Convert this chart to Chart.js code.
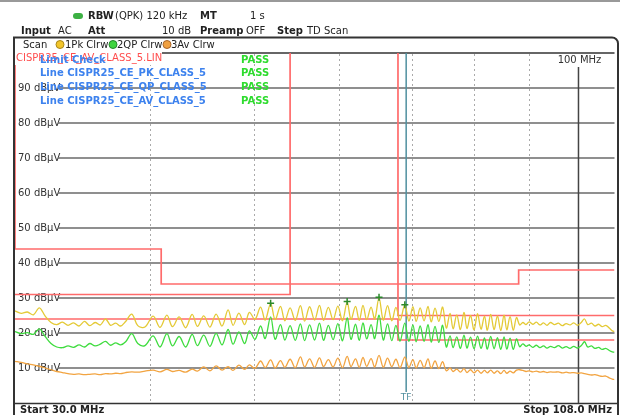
<!DOCTYPE html>
<html><head><meta charset="utf-8">
<script src="https://cdn.jsdelivr.net/npm/chart.js@4/dist/chart.umd.min.js"></script>
<style>html,body{margin:0;padding:0;background:#fff;overflow:hidden}canvas{display:block}</style>
</head><body>
<canvas id="c" width="620" height="415"></canvas>
<script>
// ---- data (MHz / dBµV) ----
const freqsMHz = [
 30.0,30.4,30.8,31.2,31.6,32.0,32.4,32.8,33.2,33.6,34.0,34.4,34.8,35.2,35.6,36.0,36.4,36.8,37.2,37.6,38.0,38.5,39.0,39.6,
 40.3,40.9,41.5,42.0,42.6,43.2,43.8,44.3,44.9,45.5,46.1,46.7,47.3,47.8,48.4,49.0,49.5,50.1,50.7,51.2,51.8,52.3,52.9,53.4,54.0,54.6,
 55.2,55.7,56.3,56.9,57.5,58.0,58.6,59.2,59.8,60.4,61.0,61.5,62.1,62.6,63.1,63.6,64.2,64.7,65.3,65.9,66.5,67.1,67.7,68.3,69.0,69.6,
 70.2,70.7,71.3,71.9,72.5,73.0,73.6,74.2,74.8,75.4,76.0,76.5,77.1,77.7,78.3,78.8,79.4,80.0,80.6,81.2,81.8,82.3,82.9,83.5,84.1,84.7,
 85.3,85.8,86.4,87.0,87.6,88.2,
 88.8,89.4,90.0,90.7,91.4,92.1,92.8,93.5,94.2,95.0,95.8,96.6,97.4,98.2,99.0,99.8,100.6,101.3,102.0,102.8,103.6,104.4,105.2,106.0,106.8,107.5,108.0
];
const pkTrace = [
 26.3,25.6,26.0,25.2,27.2,24.8,23.0,22.4,23.1,22.2,22.9,22.0,23.3,22.1,23.0,22.3,24.0,22.2,22.8,22.0,23.3,25.4,22.1,21.7,
 24.8,21.6,25.1,21.8,24.6,21.5,25.3,21.9,24.9,21.7,25.4,22.0,26.6,22.2,25.7,22.4,25.9,23.9,27.4,23.7,28.4,23.8,27.6,23.5,27.2,23.6,
 27.8,23.4,27.5,23.7,27.9,23.6,27.3,23.8,27.7,23.5,28.8,23.9,27.6,23.6,27.9,23.8,27.4,24.0,30.0,23.7,27.8,23.5,27.3,23.6,28.0,23.4,
 27.5,23.3,27.2,23.5,27.6,23.2,27.1,23.3,27.4,21.4,25.6,21.2,25.2,21.0,25.9,21.3,25.0,20.9,25.5,21.1,24.8,20.8,25.3,21.0,24.9,20.7,
 25.1,20.9,24.7,20.8,24.4,22.3,
 23.0,22.4,23.2,22.5,23.1,22.3,22.9,22.2,23.0,22.4,22.8,22.1,22.7,22.3,22.9,22.2,23.0,24.0,22.4,22.8,22.0,22.5,21.8,22.2,21.4,20.6,20.4
];
const qpTrace = [
 20.4,19.8,20.1,19.6,21.2,19.0,17.0,16.0,15.8,16.3,15.9,16.6,16.0,17.0,16.3,16.8,17.6,16.5,17.2,16.6,17.5,19.8,17.0,16.4,
 19.2,16.0,19.8,16.3,19.0,16.0,19.6,16.4,19.4,16.2,19.9,16.6,21.0,16.8,20.3,17.0,20.6,18.2,22.0,18.4,24.6,18.2,22.4,18.0,22.1,17.9,
 22.6,17.8,22.3,18.0,22.8,17.9,22.2,18.1,22.7,17.8,24.3,18.2,22.5,17.9,22.9,18.3,22.4,18.4,25.1,18.0,22.6,17.8,22.2,17.7,22.8,17.6,
 22.3,17.5,22.0,17.6,22.4,17.4,21.9,17.3,22.2,16.0,19.2,15.8,18.9,15.6,19.4,15.7,18.8,15.5,19.1,15.6,18.6,15.4,19.0,15.5,18.7,15.3,
 18.9,15.4,18.5,15.3,18.3,16.1,
 16.9,16.2,16.6,15.9,16.5,15.8,16.3,15.7,16.2,15.8,16.4,15.7,16.1,15.6,16.2,15.7,16.4,17.5,16.0,16.3,15.6,15.9,15.3,15.6,15.0,14.6,14.5
];
const avTrace = [
 11.9,11.6,11.2,10.9,10.5,10.0,9.5,9.0,8.7,8.4,8.2,8.3,8.1,8.2,8.3,8.1,8.4,8.3,8.5,8.4,8.7,8.9,8.8,9.1,
 9.4,8.9,9.6,9.0,9.3,8.8,9.7,9.1,10.3,9.2,10.6,9.4,10.4,9.3,10.8,9.6,10.9,9.9,12.0,10.1,12.3,10.0,12.1,10.2,12.5,10.1,
 13.2,10.3,12.6,10.2,12.9,10.4,12.4,10.3,12.8,10.1,13.3,10.4,12.6,10.2,13.0,10.5,12.7,10.3,13.6,10.2,12.8,10.4,12.5,10.1,13.1,10.2,
 12.4,10.0,12.2,10.1,12.6,9.9,12.0,9.8,11.8,9.2,10.0,9.0,9.7,8.8,9.8,8.7,9.5,8.6,9.4,8.5,9.3,8.6,9.4,8.5,9.2,8.4,
 9.3,8.5,9.1,8.6,9.4,9.5,
 9.3,9.0,9.2,8.9,9.1,8.8,9.0,8.7,8.9,8.8,8.9,8.6,8.8,8.6,8.7,8.5,8.6,8.4,8.2,8.0,8.1,7.8,7.6,7.7,7.2,6.8,6.7
];
// limit lines (200 = gap, drawn off the top)
const pkLimitFreqs = [30, 30, 41, 41, 88, 88, 108];
const pkLimitLevels = [200, 44, 44, 34, 34, 38, 38];
const qpLimitFreqs = [30, 54, 54, 68, 68, 108];
const qpLimitLevels = [31, 31, 200, 200, 25, 25];
const avLimitFreqs = [30, 68, 68, 108];
const avLimitLevels = [24, 24, 18, 18];
// markers
const markerFreqs = [51.8, 61.0, 65.3, 69.0];
const markerLevels = [28.5, 29.0, 30.2, 28.1];
const tfFreq = 69.2;
// axes
const levelTicks = [90, 80, 70, 60, 50, 40, 30, 20, 10];
const levelUnit = 'dBµV';
const freqGrid = [40, 50, 60, 70, 80, 90];
const freqMajor = 100;
const freqMin = 30, freqMax = 108;
const limitRows = ['Line CISPR25_CE_PK_CLASS_5', 'Line CISPR25_CE_QP_CLASS_5', 'Line CISPR25_CE_AV_CLASS_5'];

const F = 'DejaVu Sans';
function txt(ctx, t, x, y, opts) {
  opts = opts || {};
  ctx.font = (opts.bold ? 'bold ' : '') + (opts.size || 10) + 'px "' + F + '"';
  ctx.fillStyle = opts.color || '#222';
  ctx.textAlign = opts.align || 'left';
  ctx.textBaseline = 'middle';
  ctx.fillText(t, x, y);
}
function dot(ctx, x, y, fill, stroke) {
  ctx.beginPath(); ctx.arc(x, y, 4, 0, Math.PI * 2);
  ctx.fillStyle = fill; ctx.fill(); ctx.lineWidth = 1; ctx.strokeStyle = stroke; ctx.stroke();
}

const framePlugin = {
  id: 'frame',
  beforeDraw(chart) {
    const ctx = chart.ctx, W = chart.width, H = chart.height, ca = chart.chartArea;
    ctx.save();
    ctx.fillStyle = '#fff'; ctx.fillRect(0, 0, W, H);
    ctx.strokeStyle = '#777'; ctx.lineWidth = 1.5;
    ctx.beginPath(); ctx.moveTo(0, 1); ctx.lineTo(W, 1); ctx.stroke();
    // header
    ctx.fillStyle = '#3cb043';
    ctx.beginPath(); ctx.roundRect ? ctx.roundRect(73, 13, 10, 6, 3) : ctx.rect(73, 13, 10, 6); ctx.fill();
    txt(ctx, 'RBW', 88, 16, {bold: true});
    txt(ctx, '(QPK) 120 kHz', 115, 16);
    txt(ctx, 'MT', 200, 16, {bold: true});
    txt(ctx, '1 s', 250, 16);
    txt(ctx, 'Input', 21, 31, {bold: true});
    txt(ctx, 'AC', 58, 31);
    txt(ctx, 'Att', 88, 31, {bold: true});
    txt(ctx, '10 dB', 162, 31);
    txt(ctx, 'Preamp', 200, 31, {bold: true});
    txt(ctx, 'OFF', 246, 31);
    txt(ctx, 'Step', 277, 31, {bold: true});
    txt(ctx, 'TD Scan', 307, 31);
    // outer box
    ctx.strokeStyle = '#333'; ctx.lineWidth = 2;
    ctx.beginPath(); ctx.moveTo(14, H + 2); ctx.lineTo(14, 37.5); ctx.lineTo(612, 37.5);
    ctx.arcTo(618, 37.5, 618, 44, 6); ctx.lineTo(618, H + 2); ctx.stroke();
    // scan row
    txt(ctx, 'Scan', 23, 45);
    dot(ctx, 60, 44.5, '#f2c52a', '#a8861a'); txt(ctx, '1Pk Clrw', 65, 45);
    dot(ctx, 113, 44.5, '#3fd43f', '#23862a'); txt(ctx, '2QP Clrw', 117, 45);
    dot(ctx, 167, 44.5, '#f0a040', '#a8652a'); txt(ctx, '3Av Clrw', 171, 45);
    // plot top line
    ctx.strokeStyle = '#666'; ctx.lineWidth = 2;
    ctx.beginPath(); ctx.moveTo(ca.left, ca.top); ctx.lineTo(ca.right, ca.top); ctx.stroke();
    // bottom line
    ctx.strokeStyle = '#333'; ctx.lineWidth = 1.5;
    ctx.beginPath(); ctx.moveTo(14, ca.bottom + 0.5); ctx.lineTo(618, ca.bottom + 0.5); ctx.stroke();
    txt(ctx, 'Start ' + freqMin.toFixed(1) + ' MHz', 20, 410, {bold: true});
    txt(ctx, 'Stop ' + freqMax.toFixed(1) + ' MHz', 612, 410, {bold: true, align: 'right'});
    ctx.restore();
  },
  beforeDatasetsDraw(chart) {
    const ctx = chart.ctx, ca = chart.chartArea, xs = chart.scales.x, ys = chart.scales.y;
    ctx.save();
    // dotted frequency grid
    ctx.strokeStyle = '#aaa'; ctx.lineWidth = 1; ctx.setLineDash([2, 3]);
    freqGrid.forEach(f => {
      const x = Math.round(xs.getPixelForValue(f)) + 0.5;
      ctx.beginPath(); ctx.moveTo(x, ca.top + 1); ctx.lineTo(x, ca.bottom); ctx.stroke();
    });
    ctx.setLineDash([]);
    // level grid + labels
    levelTicks.forEach(v => {
      const y = ys.getPixelForValue(v);
      txt(ctx, v + ' ' + levelUnit, ca.left + 3, y, {color: '#333'});
      ctx.strokeStyle = '#6a6a6a'; ctx.lineWidth = 1.5;
      ctx.beginPath(); ctx.moveTo(ca.left + 43, y); ctx.lineTo(ca.right, y); ctx.stroke();
    });
    // 100 MHz solid line
    const x100 = xs.getPixelForValue(freqMajor);
    ctx.strokeStyle = '#444'; ctx.lineWidth = 1.5;
    ctx.beginPath(); ctx.moveTo(x100, ca.top + 14); ctx.lineTo(x100, ca.bottom); ctx.stroke();
    // TF line
    const xtf = xs.getPixelForValue(tfFreq);
    ctx.strokeStyle = '#4f8f9f'; ctx.lineWidth = 1.5;
    ctx.beginPath(); ctx.moveTo(xtf, ca.top); ctx.lineTo(xtf, ca.bottom - 11); ctx.stroke();
    txt(ctx, 'TF', xtf, ca.bottom - 5, {color: '#4f8f9f', size: 9, align: 'center'});
    ctx.restore();
  },
  afterDatasetsDraw(chart) {
    const ctx = chart.ctx, ca = chart.chartArea, xs = chart.scales.x;
    ctx.save();
    ctx.fillStyle = '#fff'; ctx.fillRect(ca.left, ca.top - 3, 147, 15);
    txt(ctx, 'CISPR25_CE_AV_CLASS_5.LIN', ca.left + 1, ca.top + 5, {color: '#ff4d4d'});
    txt(ctx, 'Limit Check', 40, ca.top + 7, {bold: true, color: '#3d82ee'});
    txt(ctx, 'PASS', 241, ca.top + 7, {bold: true, color: '#2edc2e'});
    limitRows.forEach((r, i) => {
      const y = ca.top + 20.5 + i * 14;
      txt(ctx, r, 40, y, {bold: true, color: '#3d82ee'});
      txt(ctx, 'PASS', 241, y, {bold: true, color: '#2edc2e'});
    });
    const x100 = xs.getPixelForValue(freqMajor);
    txt(ctx, freqMajor + ' MHz', x100 + 1, ca.top + 7, {align: 'center', color: '#333'});
    ctx.restore();
  }
};

const mk = (fs, vs) => fs.map((f, i) => ({x: f, y: vs[i]})).filter(p => p.y !== undefined);
const lineDs = (label, fs, vs, color, w, order, tension) => ({
  label, data: mk(fs, vs), borderColor: color, borderWidth: w, pointRadius: 0, tension: tension || 0, fill: false, order
});

new Chart(document.getElementById('c').getContext('2d'), {
  type: 'line',
  data: {datasets: [
    {label: 'markers', type: 'scatter', data: mk(markerFreqs, markerLevels), pointStyle: 'cross',
     pointRadius: 3.5, borderColor: '#2b8a2b', backgroundColor: '#2b8a2b', pointBorderWidth: 1.5, order: 0},
    lineDs('1Pk Clrw', freqsMHz, pkTrace, '#e4ca36', 1.3, 1, 0.35),
    lineDs('2QP Clrw', freqsMHz, qpTrace, '#3fdc3f', 1.3, 2, 0.35),
    lineDs('3Av Clrw', freqsMHz, avTrace, '#f2a441', 1.3, 3, 0.35),
    lineDs('CISPR25_CE_PK_CLASS_5', pkLimitFreqs, pkLimitLevels, '#ff6b6b', 1.7, 4),
    lineDs('CISPR25_CE_QP_CLASS_5', qpLimitFreqs, qpLimitLevels, '#ff6b6b', 1.7, 5),
    lineDs('CISPR25_CE_AV_CLASS_5', avLimitFreqs, avLimitLevels, '#ff6b6b', 1.7, 6)
  ]},
  options: {
    responsive: false, animation: false, devicePixelRatio: 1, events: [],
    layout: {padding: {left: 15, right: 3, top: 53, bottom: 12}},
    plugins: {legend: {display: false}, tooltip: {enabled: false}},
    scales: {
      x: {type: 'logarithmic', min: freqMin, max: freqMax, display: false},
      y: {type: 'linear', min: 0, max: 100, display: false}
    }
  },
  plugins: [framePlugin]
});
</script>
</body></html>
